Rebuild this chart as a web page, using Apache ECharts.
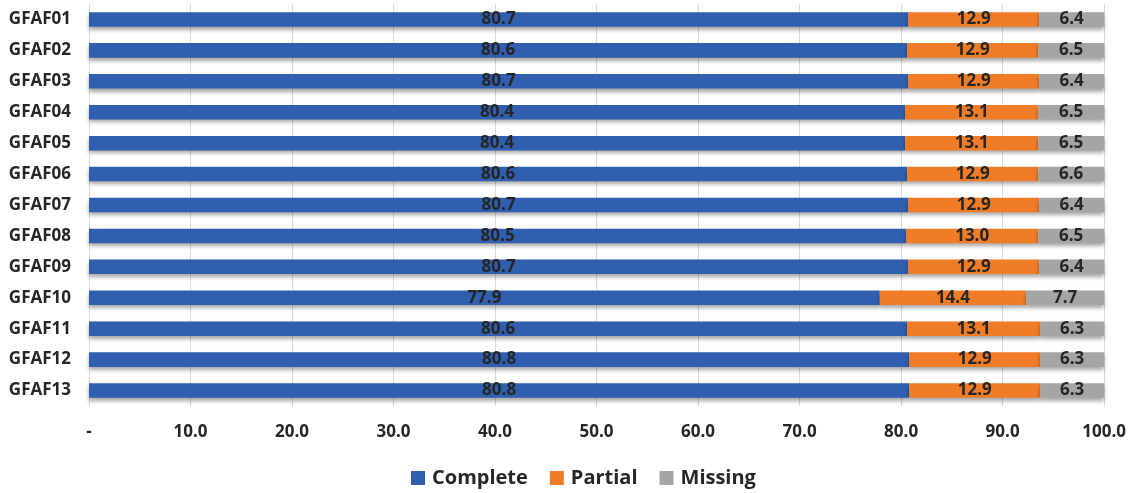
<!DOCTYPE html>
<html>
<head>
<meta charset="utf-8">
<script src="https://cdn.jsdelivr.net/npm/echarts@6/dist/echarts.min.js"></script>
<style>
    html, body { margin: 0; padding: 0; background: #fff; }
    #container { width: 1129px; height: 493px; }
</style>
</head>
<body>
<div id="container"></div>
<script>
// 数据
var categories = ['GFAF01', 'GFAF02', 'GFAF03', 'GFAF04', 'GFAF05', 'GFAF06', 'GFAF07',
    'GFAF08', 'GFAF09', 'GFAF10', 'GFAF11', 'GFAF12', 'GFAF13'];
var complete = [80.7, 80.6, 80.7, 80.4, 80.4, 80.6, 80.7, 80.5, 80.7, 77.9, 80.6, 80.8, 80.8];
var partial = [12.9, 12.9, 12.9, 13.1, 13.1, 12.9, 12.9, 13.0, 12.9, 14.4, 13.1, 12.9, 12.9];
var missing = [6.4, 6.5, 6.4, 6.5, 6.5, 6.6, 6.4, 6.5, 6.4, 7.7, 6.3, 6.3, 6.3];
var xTickLabels = ['-', '10.0', '20.0', '30.0', '40.0', '50.0', '60.0', '70.0', '80.0', '90.0', '100.0'];

var font = '"Open Sans", sans-serif';
var textColor = '#262626';

function seriesItem(name, data, color) {
    return {
        name: name,
        type: 'bar',
        stack: 'total',
        barWidth: '47%',
        data: data,
        itemStyle: {
            color: color,
            shadowColor: 'rgba(0,0,0,0.35)',
            shadowBlur: 4,
            shadowOffsetY: 3
        },
        label: {
            show: true,
            position: 'inside',
            color: textColor,
            fontFamily: font,
            fontWeight: 'bold',
            fontSize: 17,
            formatter: function(p) { return p.value.toFixed(1); }
        }
    };
}

var chart = echarts.init(document.getElementById('container'));
var option = {
    animation: false,
    grid: { left: 89, right: 24, top: 4, bottom: 87 },
    legend: {
        bottom: 0,
        left: 406,
        itemWidth: 14,
        itemHeight: 14,
        itemGap: 22,
        icon: 'rect',
        textStyle: { color: textColor, fontFamily: font, fontWeight: 'bold', fontSize: 20, padding: [0, 0, 0, 2] },
        data: ['Complete', 'Partial', 'Missing']
    },
    xAxis: {
        type: 'value',
        min: 0,
        max: 100,
        interval: 10,
        axisLine: { show: false },
        axisTick: { show: false },
        splitLine: { lineStyle: { color: '#d9d9d9', width: 1 } },
        axisLabel: {
            margin: 18,
            color: textColor,
            fontFamily: font,
            fontWeight: 'bold',
            fontSize: 17,
            formatter: function(v) { return xTickLabels[Math.round(v / 10)]; }
        }
    },
    yAxis: {
        type: 'category',
        inverse: true,
        data: categories,
        axisLine: { show: false },
        axisTick: { show: false },
        axisLabel: {
            margin: 18,
            color: textColor,
            fontFamily: font,
            fontWeight: 'bold',
            fontSize: 17
        }
    },
    series: [
        seriesItem('Complete', complete, '#2f5fae'),
        seriesItem('Partial', partial, '#f07c28'),
        seriesItem('Missing', missing, '#a5a5a5')
    ]
};
chart.setOption(option);
</script>
</body>
</html>
